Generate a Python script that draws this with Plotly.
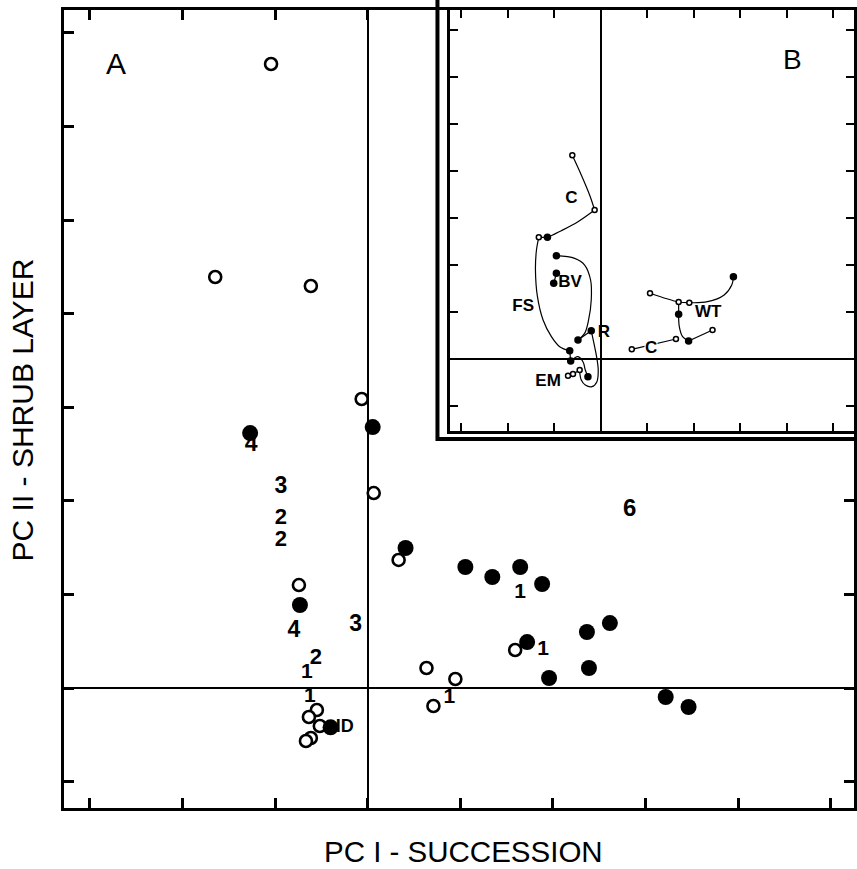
import plotly.graph_objects as go

W, H = 857, 869
FONT = "Liberation Sans, Arial, sans-serif"

# ---------------- Panel A data ----------------
a_open_x = [-1.044, -1.647, -0.614, -0.065, 0.065, 0.334, -0.743, 0.635, 0.947, 0.710, 1.593,
            -0.549, -0.635, -0.517, -0.614, -0.667]
a_open_y = [6.667, 4.391, 4.295, 3.088, 2.083, 1.368, 1.100, 0.214, 0.096, -0.192, 0.406,
            -0.235, -0.310, -0.406, -0.534, -0.566]
a_filled_x = [-1.270, 0.054, 0.409, -0.732, 1.055, 1.346, 1.647, 1.884, 1.722, 2.368, 2.616,
              2.390, 1.959, 3.219, 3.466, -0.401]
a_filled_y = [2.724, 2.788, 1.496, 0.887, 1.293, 1.186, 1.293, 1.111, 0.491, 0.598, 0.694,
              0.214, 0.107, -0.096, -0.203, -0.420]
a_label_text = ["4", "3", "2", "2", "4", "3", "2", "1", "1", "ID", "1", "1", "1", "6"]
a_label_x = [-1.259, -0.937, -0.937, -0.937, -0.797, -0.129, -0.560, -0.657, -0.624, -0.248,
             0.883, 1.647, 1.894, 2.831]
a_label_y = [2.596, 2.147, 1.816, 1.581, 0.609, 0.673, 0.310, 0.160, -0.096, -0.427,
             -0.107, 1.015, 0.406, 1.902]
a_label_size = [23, 23, 22, 22, 23, 23, 22, 21, 21, 18, 21, 21, 21, 24]

# ---------------- Panel B data ----------------
b_curves = {
    "C_top_1": ([-0.608, -0.415, -0.236, -0.128], [4.334, 3.915, 3.489, 3.170]),
    "C_top_2": ([-0.128, -0.486, -0.844, -1.143], [3.170, 2.921, 2.730, 2.589]),
    "C_top_3": ([-1.328, -1.143], [2.589, 2.589]),
    "FS": ([-1.328, -1.378, -1.400, -1.357, -1.236, -1.057, -0.879, -0.664],
           [2.589, 2.319, 1.894, 1.326, 0.830, 0.475, 0.262, 0.177]),
    "FS_end": ([-0.664, -0.643], [0.177, -0.043]),
    "FS_EM": ([-0.643, -0.486, -0.379, -0.329, -0.272], [-0.043, 0.050, -0.057, -0.234, -0.376]),
    "BV": ([-0.950, -0.557, -0.343, -0.215, -0.201, -0.258, -0.343, -0.486],
           [2.199, 2.142, 2.000, 1.681, 1.255, 0.830, 0.546, 0.404]),
    "BV_pair": ([-0.950, -1.007], [1.823, 1.610]),
    "R": ([-0.486, -0.201], [0.404, 0.603]),
    "R_EM": ([-0.201, -0.143, -0.086, -0.051, -0.079, -0.186, -0.329, -0.415, -0.450],
             [0.603, 0.333, 0.050, -0.234, -0.482, -0.589, -0.553, -0.447, -0.270]),
    "EM": ([-0.700, -0.593, -0.450], [-0.355, -0.319, -0.234]),
    "WT_1": ([1.062, 1.677, 1.906], [1.398, 1.213, 1.198]),
    "WT_2": ([1.906, 2.298, 2.655, 2.818, 2.854], [1.198, 1.219, 1.362, 1.574, 1.751]),
    "WT_3": ([1.677, 1.677], [1.213, 0.951]),
    "WT_4": ([1.677, 1.691, 1.762, 1.891], [0.951, 0.688, 0.475, 0.383]),
    "WT_5": ([1.891, 2.405], [0.383, 0.617]),
    "C_bottom": ([0.670, 1.619], [0.206, 0.426]),
}
b_open_x = [-0.608, -0.128, -1.328, -0.700, -0.593, -0.450, 1.062, 1.677, 1.906, 2.405, 1.619, 0.670]
b_open_y = [4.334, 3.170, 2.589, -0.355, -0.319, -0.234, 1.398, 1.213, 1.198, 0.617, 0.426, 0.206]
b_filled_x = [-1.143, -0.950, -0.950, -1.007, -0.486, -0.201, -0.664, -0.643, -0.272, 2.854, 1.677, 1.891]
b_filled_y = [2.589, 2.199, 1.823, 1.610, 0.404, 0.603, 0.177, -0.043, -0.376, 1.751, 0.951, 0.383]
b_label_text = ["C", "BV", "FS", "R", "EM", "WT"]
b_label_x = [-0.630, -0.657, -1.664, 0.071, -1.128, 2.313]
b_label_y = [3.419, 1.617, 1.113, 0.564, -0.489, 0.994]
b_boxed_text = ["C"]
b_boxed_x = [1.083]
b_boxed_y = [0.249]


def px(v):
    return v / W


def py(v):
    return 1 - v / H


fig = go.Figure()

# Panel A traces
fig.add_trace(go.Scatter(x=a_open_x, y=a_open_y, mode="markers", xaxis="x", yaxis="y",
                         marker=dict(symbol="circle", size=12, color="white",
                                     line=dict(color="black", width=2.6)),
                         showlegend=False, hoverinfo="skip"))
fig.add_trace(go.Scatter(x=a_filled_x, y=a_filled_y, mode="markers", xaxis="x", yaxis="y",
                         marker=dict(symbol="circle", size=16, color="black",
                                     line=dict(width=0)),
                         showlegend=False, hoverinfo="skip"))
fig.add_trace(go.Scatter(x=a_label_x, y=a_label_y, mode="text", text=a_label_text,
                         xaxis="x", yaxis="y", textposition="middle center",
                         textfont=dict(family=FONT, size=a_label_size, color="black",
                                       weight="bold"),
                         showlegend=False, hoverinfo="skip"))

# Panel B traces
for name, (cx, cy) in b_curves.items():
    fig.add_trace(go.Scatter(x=cx, y=cy, mode="lines", xaxis="x2", yaxis="y2",
                             line=dict(color="black", width=1.2, shape="spline", smoothing=1.0),
                             showlegend=False, hoverinfo="skip"))
fig.add_trace(go.Scatter(x=b_open_x, y=b_open_y, mode="markers", xaxis="x2", yaxis="y2",
                         marker=dict(symbol="circle", size=5, color="white",
                                     line=dict(color="black", width=1.5)),
                         showlegend=False, hoverinfo="skip"))
fig.add_trace(go.Scatter(x=b_filled_x, y=b_filled_y, mode="markers", xaxis="x2", yaxis="y2",
                         marker=dict(symbol="circle", size=7.5, color="black", line=dict(width=0)),
                         showlegend=False, hoverinfo="skip"))
fig.add_trace(go.Scatter(x=b_label_x, y=b_label_y, mode="text", text=b_label_text,
                         xaxis="x2", yaxis="y2", textposition="middle center",
                         textfont=dict(family=FONT, size=17, color="black", weight="bold"),
                         showlegend=False, hoverinfo="skip"))

annotations = []
for t, x, y in zip(b_boxed_text, b_boxed_x, b_boxed_y):
    annotations.append(dict(text="<b>" + t + "</b>", x=x, y=y, xref="x2", yref="y2",
                            showarrow=False, xanchor="center", yanchor="middle",
                            font=dict(family=FONT, size=17, color="black"),
                            bgcolor="white", borderpad=0))

annotations += [
    dict(text="A", x=px(116), y=py(64), xref="paper", yref="paper", showarrow=False,
         xanchor="center", yanchor="middle",
         font=dict(family=FONT, size=30, color="black")),
    dict(text="B", x=px(795), y=py(60), xref="paper", yref="paper", showarrow=False,
         xanchor="center", yanchor="middle",
         font=dict(family=FONT, size=28, color="black")),
    dict(text="PC I - SUCCESSION", x=px(465), y=py(851), xref="paper", yref="paper",
         showarrow=False, xanchor="center", yanchor="middle",
         font=dict(family=FONT, size=29.5, color="black")),
    dict(text="PC II - SHRUB LAYER", x=px(22.5), y=py(410), xref="paper", yref="paper",
         showarrow=False, textangle=-90, xanchor="center", yanchor="middle",
         font=dict(family=FONT, size=30, color="black")),
]

axis_common = dict(showgrid=False, showticklabels=False, ticks="inside", dtick=1, tick0=0,
                   showline=True, linecolor="black", mirror="ticks", tickcolor="black",
                   zeroline=True, zerolinecolor="black")

fig.update_layout(
    width=W, height=H, autosize=False,
    margin=dict(l=0, r=0, t=0, b=0),
    paper_bgcolor="white", plot_bgcolor="white",
    showlegend=False,
    xaxis=dict(domain=[px(64), 1.0], range=[-3.283, 5.253], anchor="y",
               linewidth=3, ticklen=10, tickwidth=2.5, zerolinewidth=2, **axis_common),
    yaxis=dict(domain=[py(808), py(9.5)], range=[-1.282, 7.249], anchor="x",
               linewidth=3, ticklen=10, tickwidth=2.5, zerolinewidth=2, **axis_common),
    xaxis2=dict(domain=[px(452), 1.0], range=[-3.227, 5.445], anchor="y2",
                linewidth=3, ticklen=8, tickwidth=2, zerolinewidth=1.5, **axis_common),
    yaxis2=dict(domain=[py(431), py(10)], range=[-1.532, 7.426], anchor="x2",
                linewidth=3, ticklen=8, tickwidth=2, zerolinewidth=1.5, **axis_common),
    annotations=annotations,
    shapes=[dict(type="rect", xref="paper", yref="paper", x0=px(439), x1=1.05,
                 y0=py(439), y1=1.05, line=dict(color="black", width=4),
                 fillcolor="rgba(0,0,0,0)", layer="above")],
)

fig.write_html(
    "out.html",
    config={"displayModeBar": False},
    post_script="document.documentElement.style.margin='0';"
                "document.body.style.margin='0';document.body.style.padding='0';"
                "document.body.style.overflow='hidden';",
)
